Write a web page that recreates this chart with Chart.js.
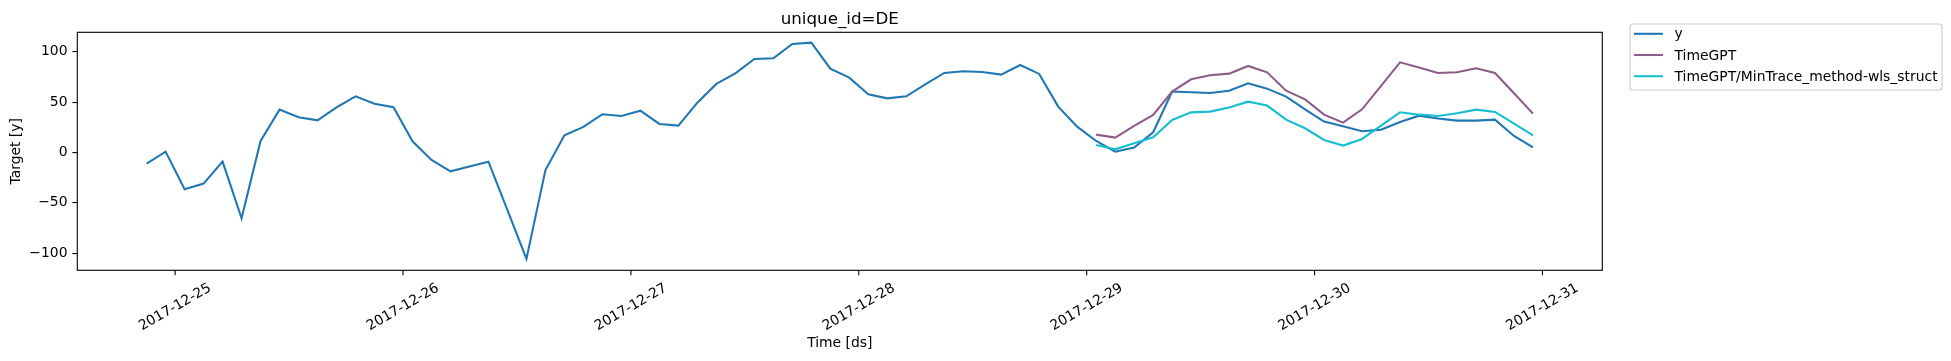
<!DOCTYPE html>
<html><head><meta charset="utf-8">
<script src="https://cdn.jsdelivr.net/npm/chart.js@4.4.0/dist/chart.umd.min.js"></script>
<style>html,body{margin:0;padding:0;background:#fff;overflow:hidden}#wrap{width:1951px;height:361px;position:relative}</style>
</head><body><div id="wrap"><canvas id="c" width="1951" height="361"></canvas></div>
<script>
const chartTitle = 'unique_id=DE';
const xAxisLabel = 'Time [ds]';
const yAxisLabel = 'Target [y]';

const actualDs = [
 '2017-12-24 21:00','2017-12-24 23:00',
 '2017-12-25 01:00','2017-12-25 03:00','2017-12-25 05:00','2017-12-25 07:00','2017-12-25 09:00','2017-12-25 11:00',
 '2017-12-25 13:00','2017-12-25 15:00','2017-12-25 17:00','2017-12-25 19:00','2017-12-25 21:00','2017-12-25 23:00',
 '2017-12-26 01:00','2017-12-26 03:00','2017-12-26 05:00','2017-12-26 07:00','2017-12-26 09:00','2017-12-26 11:00',
 '2017-12-26 13:00','2017-12-26 15:00','2017-12-26 17:00','2017-12-26 19:00','2017-12-26 21:00','2017-12-26 23:00',
 '2017-12-27 01:00','2017-12-27 03:00','2017-12-27 05:00','2017-12-27 07:00','2017-12-27 09:00','2017-12-27 11:00',
 '2017-12-27 13:00','2017-12-27 15:00','2017-12-27 17:00','2017-12-27 19:00','2017-12-27 21:00','2017-12-27 23:00',
 '2017-12-28 01:00','2017-12-28 03:00','2017-12-28 05:00','2017-12-28 07:00','2017-12-28 09:00','2017-12-28 11:00',
 '2017-12-28 13:00','2017-12-28 15:00','2017-12-28 17:00','2017-12-28 19:00','2017-12-28 21:00','2017-12-28 23:00',
 '2017-12-29 01:00','2017-12-29 03:00','2017-12-29 05:00','2017-12-29 07:00','2017-12-29 09:00','2017-12-29 11:00',
 '2017-12-29 13:00','2017-12-29 15:00','2017-12-29 17:00','2017-12-29 19:00','2017-12-29 21:00','2017-12-29 23:00',
 '2017-12-30 01:00','2017-12-30 03:00','2017-12-30 05:00','2017-12-30 07:00','2017-12-30 09:00','2017-12-30 11:00',
 '2017-12-30 13:00','2017-12-30 15:00','2017-12-30 17:00','2017-12-30 19:00','2017-12-30 21:00','2017-12-30 23:00'
];
const actualY = [
 -11.1, 0.8,
 -36.5, -30.9, -9.1, -65.3, 11.4, 42.5, 34.9, 31.9, 44.8, 55.7, 48.4, 44.8,
 11.1, -7.4, -18.7, -13.9, -9.1, -57.2, -105.6, -17.4, 17.0, 25.3, 37.9, 36.2,
 41.5, 28.3, 26.6, 49.4, 68.0, 78.5, 92.7, 93.4, 107.6, 108.9, 83.2, 74.2,
 57.7, 53.7, 55.7, 67.6, 78.9, 80.5, 79.9, 77.2, 86.8, 77.9, 45.5, 25.6,
 11.4, 0.8, 4.8, 20.0, 60.4, 59.7, 59.0, 61.3, 68.6, 63.3, 55.4, 42.8,
 30.6, 26.0, 21.0, 22.6, 30.3, 36.5, 33.6, 31.6, 31.6, 32.6, 16.4, 5.1
];

const forecastDs = [
 '2017-12-29 01:00','2017-12-29 03:00','2017-12-29 05:00','2017-12-29 07:00','2017-12-29 09:00','2017-12-29 11:00',
 '2017-12-29 13:00','2017-12-29 15:00','2017-12-29 17:00','2017-12-29 19:00','2017-12-29 21:00','2017-12-29 23:00',
 '2017-12-30 01:00','2017-12-30 03:00','2017-12-30 05:00','2017-12-30 07:00','2017-12-30 09:00','2017-12-30 11:00',
 '2017-12-30 13:00','2017-12-30 15:00','2017-12-30 17:00','2017-12-30 19:00','2017-12-30 21:00','2017-12-30 23:00'
];
const timeGptY = [
 17.7, 14.7, 26.3, 37.2, 60.4, 72.6, 76.6, 78.2, 85.8, 79.5, 61.3, 52.7,
 37.5, 29.6, 42.8, 66.0, 89.4, 84.4, 78.9, 79.5, 83.5, 78.9, 58.7, 38.5
];
const minTraceY = [
 7.4, 3.1, 9.1, 15.0, 32.2, 39.8, 40.5, 44.5, 50.4, 46.5, 32.6, 24.0,
 12.4, 6.8, 13.4, 26.6, 39.8, 37.5, 36.2, 38.9, 42.5, 40.2, 28.6, 17.0
];

const seriesNames = ['y', 'TimeGPT', 'TimeGPT/MinTrace_method-wls_struct'];
const seriesColors = ['#1f77b4', '#8e5c8a', '#17becf'];
const xTickLabels = ['2017-12-25','2017-12-26','2017-12-27','2017-12-28','2017-12-29','2017-12-30','2017-12-31'];
const yTickValues = [-100, -50, 0, 50, 100];
const yMin = -116.9, yMax = 119.2;

const toHours = s => Date.parse(s.replace(' ', 'T') + (s.length > 10 ? ':00Z' : 'T00:00:00Z')) / 3.6e6;
const pts = (ds, ys) => ds.map((d, i) => ({x: toHours(d), y: ys[i]}));

const allX = actualDs.concat(forecastDs).map(toHours);
const dMin = Math.min(...allX), dMax = Math.max(...allX);
const xMin = dMin - 0.05 * (dMax - dMin), xMax = dMax + 0.05 * (dMax - dMin);

const FONT = '"DejaVu Sans", sans-serif';
const FS = 13.9;

const drawPlugin = {
  id: 'mplDecor',
  afterDraw(chart) {
    const ctx = chart.ctx, ca = chart.chartArea, xs = chart.scales.x;
    ctx.save();
    // frame
    ctx.strokeStyle = '#000'; ctx.lineWidth = 1.1;
    ctx.strokeRect(ca.left, ca.top, ca.right - ca.left, ca.bottom - ca.top);
    // x ticks
    ctx.font = FS + 'px ' + FONT; ctx.fillStyle = '#000';
    xTickLabels.forEach(lbl => {
      const px = xs.getPixelForValue(toHours(lbl));
      ctx.beginPath(); ctx.moveTo(px, ca.bottom); ctx.lineTo(px, ca.bottom + 4.9); ctx.stroke();
      const w = ctx.measureText(lbl).width;
      const th = FS * 1.16;
      const bh = w * 0.5 + th * 0.866;
      ctx.save();
      ctx.translate(px, ca.bottom + 9.8 + bh / 2);
      ctx.rotate(-Math.PI / 6);
      ctx.textAlign = 'center'; ctx.textBaseline = 'middle';
      ctx.fillText(lbl, 0, 0);
      ctx.restore();
    });
    // x label
    ctx.textAlign = 'center'; ctx.textBaseline = 'middle';
    ctx.fillText(xAxisLabel, (ca.left + ca.right) / 2, 343.5);
    // y label
    ctx.save();
    ctx.translate(16, (ca.top + ca.bottom) / 2);
    ctx.rotate(-Math.PI / 2);
    ctx.fillText(yAxisLabel, 0, 0);
    ctx.restore();
    // title
    ctx.font = '16.7px ' + FONT;
    ctx.textBaseline = 'alphabetic';
    ctx.fillText(chartTitle, (ca.left + ca.right) / 2, 24);
    // legend
    const lx = 1630, ly = 24, lw = 312, lh = 66, r = 3;
    ctx.beginPath();
    ctx.moveTo(lx + r, ly); ctx.lineTo(lx + lw - r, ly); ctx.arcTo(lx + lw, ly, lx + lw, ly + r, r);
    ctx.lineTo(lx + lw, ly + lh - r); ctx.arcTo(lx + lw, ly + lh, lx + lw - r, ly + lh, r);
    ctx.lineTo(lx + r, ly + lh); ctx.arcTo(lx, ly + lh, lx, ly + lh - r, r);
    ctx.lineTo(lx, ly + r); ctx.arcTo(lx, ly, lx + r, ly, r); ctx.closePath();
    ctx.fillStyle = 'rgba(255,255,255,0.8)'; ctx.fill();
    ctx.strokeStyle = '#cccccc'; ctx.lineWidth = 1.1; ctx.stroke();
    ctx.font = FS + 'px ' + FONT; ctx.textAlign = 'left'; ctx.textBaseline = 'middle';
    const rows = [33.8, 55.0, 76.2];
    seriesNames.forEach((n, i) => {
      ctx.strokeStyle = seriesColors[i]; ctx.lineWidth = 2.08;
      ctx.beginPath(); ctx.moveTo(1634, rows[i]); ctx.lineTo(1663, rows[i]); ctx.stroke();
      ctx.fillStyle = '#000';
      ctx.fillText(n, 1674.5, rows[i] + 1);
    });
    ctx.restore();
  }
};

new Chart(document.getElementById('c'), {
  type: 'line',
  data: {
    datasets: [
      {label: seriesNames[0], data: pts(actualDs, actualY), borderColor: seriesColors[0], order: 2},
      {label: seriesNames[1], data: pts(forecastDs, timeGptY), borderColor: seriesColors[1], order: 1},
      {label: seriesNames[2], data: pts(forecastDs, minTraceY), borderColor: seriesColors[2], order: 0}
    ]
  },
  options: {
    responsive: false, animation: false, devicePixelRatio: 1,
    layout: {padding: {left: 0, right: 348.7, top: 32.3, bottom: 90.7}},
    plugins: {legend: {display: false}, title: {display: false}, tooltip: {enabled: false}},
    elements: {point: {radius: 0}, line: {tension: 0, borderWidth: 2.08, fill: false}},
    scales: {
      x: {type: 'linear', min: xMin, max: xMax, ticks: {display: false}, grid: {display: false}, border: {display: false},
          afterFit(s) { s.height = 0; }},
      y: {type: 'linear', min: yMin, max: yMax,
          afterBuildTicks(s) { s.ticks = yTickValues.map(v => ({value: v})); },
          ticks: {font: {family: 'DejaVu Sans', size: FS}, color: '#000', padding: 4.9,
                  callback: v => String(v).replace('-', '\u2212')},
          grid: {drawOnChartArea: false, drawTicks: true, tickLength: 4.9, color: '#000', lineWidth: 1.1},
          border: {display: false},
          afterFit(s) { s.width = 77.3; }}
    }
  },
  plugins: [drawPlugin]
});
</script>
</body></html>
